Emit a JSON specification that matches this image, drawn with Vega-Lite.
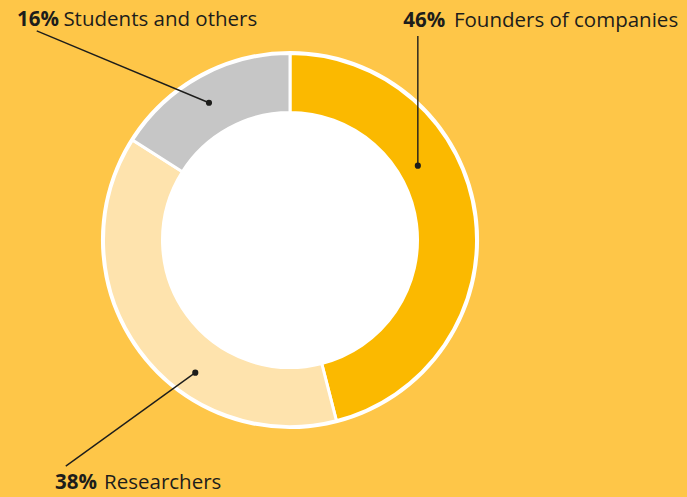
{
  "$schema": "https://vega.github.io/schema/vega-lite/v6.json",
  "width": 687,
  "height": 497,
  "autosize": {"type": "none"},
  "padding": 0,
  "background": "#FEC648",
  "config": {"view": {"stroke": null}, "font": "Open Sans"},
  "layer": [
    {
      "data": {"values": [{"cx": 0, "cy": 0}]},
      "mark": {"type": "arc", "theta": 0, "theta2": 6.2832, "innerRadius": 0, "outerRadius": 189, "fill": "#FFFFFF"},
      "encoding": {
        "x": {"field": "cx", "type": "quantitative", "scale": {"domain": [-156.76, 214.59], "nice": false, "zero": false}, "axis": null},
        "y": {"field": "cy", "type": "quantitative", "scale": {"domain": [-138.92, 129.73], "nice": false, "zero": false}, "axis": null}
      }
    },
    {
      "data": {"values": [
        {"cat": "Founders of companies", "v": 46, "o": 1, "cx": 0, "cy": 0},
        {"cat": "Researchers", "v": 38, "o": 2, "cx": 0, "cy": 0},
        {"cat": "Students and others", "v": 16, "o": 3, "cx": 0, "cy": 0}
      ]},
      "mark": {"type": "arc", "innerRadius": 127.5, "outerRadius": 186.5, "stroke": "#FFFFFF", "strokeWidth": 3},
      "encoding": {
        "x": {"field": "cx", "type": "quantitative", "axis": null},
        "y": {"field": "cy", "type": "quantitative", "axis": null},
        "theta": {"field": "v", "type": "quantitative", "stack": true},
        "order": {"field": "o", "type": "quantitative"},
        "color": {"field": "cat", "type": "nominal", "legend": null,
          "scale": {"domain": ["Founders of companies", "Researchers", "Students and others"], "range": ["#FBB900", "#FEE3AD", "#C6C6C6"]}}
      }
    },
    {
      "data": {"values": [
        {"x": -43.8, "y": 74.2, "x2": -136.9, "y2": 113.0},
        {"x": 69.1, "y": 40.2, "x2": 69.1, "y2": 110.3},
        {"x": -51.2, "y": -71.7, "x2": -121.2, "y2": -122.2}
      ]},
      "layer": [
        {
          "mark": {"type": "rule", "stroke": "#1D1D1B", "strokeWidth": 1.4},
          "encoding": {
            "x": {"field": "x", "type": "quantitative"},
            "y": {"field": "y", "type": "quantitative"},
            "x2": {"field": "x2"},
            "y2": {"field": "y2"}
          }
        },
        {
          "mark": {"type": "point", "filled": true, "color": "#1D1D1B", "opacity": 1, "size": 38},
          "encoding": {
            "x": {"field": "x", "type": "quantitative"},
            "y": {"field": "y", "type": "quantitative"}
          }
        }
      ]
    },
    {
      "data": {"values": [
        {"pct": "16%", "name": "Students and others", "bx": -147.6, "nx": -122.5, "ty": 115.7},
        {"pct": "46%", "name": "Founders of companies", "bx": 61.2, "nx": 88.6, "ty": 115.3},
        {"pct": "38%", "name": "Researchers", "bx": -127.0, "nx": -100.5, "ty": -134.8}
      ]},
      "layer": [
        {
          "mark": {"type": "text", "align": "left", "baseline": "alphabetic", "fontSize": 20.5, "fontWeight": "bold", "color": "#1D1D1B"},
          "encoding": {
            "x": {"field": "bx", "type": "quantitative"},
            "y": {"field": "ty", "type": "quantitative"},
            "text": {"field": "pct"}
          }
        },
        {
          "mark": {"type": "text", "align": "left", "baseline": "alphabetic", "fontSize": 20.5, "color": "#1D1D1B"},
          "encoding": {
            "x": {"field": "nx", "type": "quantitative"},
            "y": {"field": "ty", "type": "quantitative"},
            "text": {"field": "name"}
          }
        }
      ]
    }
  ]
}
